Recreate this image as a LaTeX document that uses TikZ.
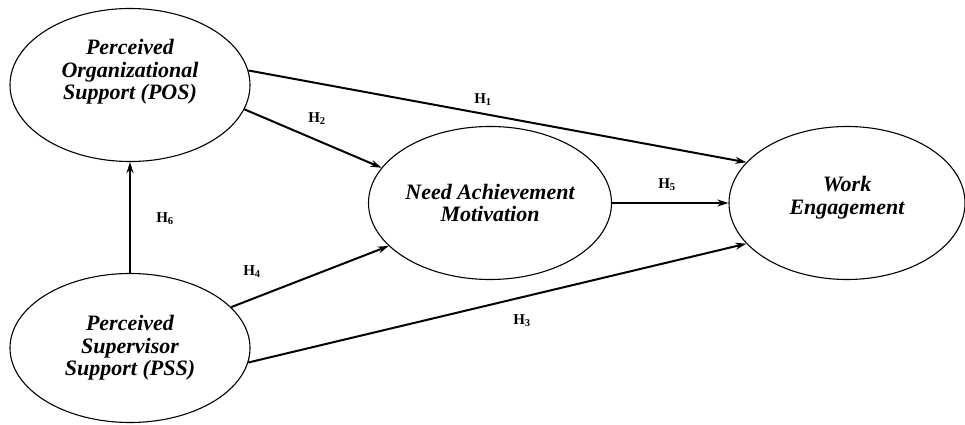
\documentclass[tikz,border=0pt]{standalone}
\usepackage{fontspec}
\setmainfont{Liberation Serif}
\usepackage{tikz}
\usetikzlibrary{arrows.meta, shapes.geometric}
\tikzset{>={Stealth[length=11pt,width=7pt]}}
\tikzset{latent/.style={shape=ellipse, draw, line width=1.1pt, align=center,
    inner sep=0pt, minimum width=240pt, minimum height=153pt,
    font=\bfseries\itshape\fontsize{22}{22.5}\selectfont}}
\tikzset{link/.style={->, line width=2pt}}
\tikzset{hyp/.style={font=\bfseries\fontsize{15}{16}\selectfont, inner sep=0pt}}

\begin{document}
\begin{tikzpicture}[x=1pt,y=1pt]
    \useasboundingbox (0,0) rectangle (965,425);
    \node[latent, text depth=31pt] (pos) at (130,340) {Perceived\\Organizational\\Support (POS)};
    \node[latent, minimum height=149pt] (pss) at (130,77) {Perceived\\Supervisor\\Support (PSS)};
    \node[latent, minimum width=243pt] (nam) at (490,222) {Need Achievement\\Motivation};
    \node[latent, minimum width=236pt, text depth=15pt] (we) at (847,222) {Work\\Engagement};
    \draw[link] (pos.7) -- (we.158);
    \draw[link] (pos.-12) -- (nam.162);
    \draw[link] (nam.east) -- (we.west);
    \draw[link] (pss.22) -- (nam.203);
    \draw[link] (pss.-7) -- (we.202);
    \draw[link] (pss.north) -- (pos.south);
    \node[hyp] (h1) at (483,325) {H\textsubscript{1}};
    \node[hyp] (h2) at (317,306) {H\textsubscript{2}};
    \node[hyp] (h3) at (522,104) {H\textsubscript{3}};
    \node[hyp] (h4) at (252,153) {H\textsubscript{4}};
    \node[hyp] (h5) at (667,240) {H\textsubscript{5}};
    \node[hyp] (h6) at (165,206) {H\textsubscript{6}};
\end{tikzpicture}
\end{document}
